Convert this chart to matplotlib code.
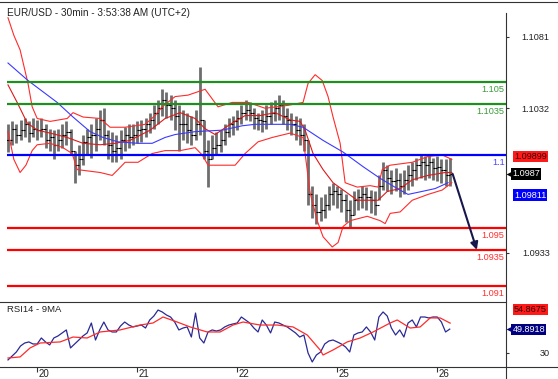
import numpy as np
import matplotlib
matplotlib.use('Agg')
import matplotlib.pyplot as plt
from matplotlib.lines import Line2D
from matplotlib import transforms

plt.rcParams['font.family'] = ['Liberation Sans', 'DejaVu Sans']

W, H = 558, 379

# hourly bars (index 0 = first bar on the chart)
high = [1.1021, 1.1023, 1.1021, 1.1024, 1.1025, 1.1023, 1.1025, 1.1024, 1.1025, 1.1021,
        1.1018, 1.1017, 1.1018, 1.1021, 1.1023, 1.1018, 1.1003, 1.1007, 1.1014, 1.1018,
        1.1021, 1.1025, 1.1031, 1.1032, 1.1017, 1.1016, 1.1014, 1.1017, 1.1019, 1.1021,
        1.1021, 1.1023, 1.1024, 1.1025, 1.1029, 1.1034, 1.1038, 1.1045, 1.1043, 1.1041,
        1.1038, 1.1034, 1.1031, 1.1029, 1.1027, 1.1031, 1.1060, 1.1024, 1.1010, 1.1014,
        1.1016, 1.1017, 1.1021, 1.1025, 1.1027, 1.1031, 1.1034, 1.1038, 1.1036, 1.1032,
        1.1029, 1.1031, 1.1034, 1.1036, 1.1038, 1.1041, 1.1038, 1.1032, 1.1029, 1.1027,
        1.1025, 1.1021, 1.1010, 1.0979, 1.0973, 1.0971, 1.0973, 1.0979, 1.0981, 1.0979,
        1.0977, 1.0973, 1.0969, 1.0975, 1.0977, 1.0979, 1.0978, 1.0976, 1.0975, 1.0986,
        1.0995, 1.0993, 1.0990, 1.0991, 1.0988, 1.0990, 1.0993, 1.0995, 1.0998, 1.1000,
        1.0999, 1.1000, 1.0998, 1.0999, 1.0997, 1.0997, 1.0998]
low = [1.1002, 1.1007, 1.1008, 1.1010, 1.1012, 1.1009, 1.1012, 1.1010, 1.1012, 1.1005,
       1.1003, 1.0997, 1.1003, 1.1005, 1.1007, 1.1000, 1.0981, 1.0986, 1.0993, 1.1000,
       1.0998, 1.1003, 1.1010, 1.1007, 1.0997, 1.0995, 1.0995, 1.0997, 1.1003, 1.1005,
       1.1007, 1.1008, 1.1009, 1.1012, 1.1015, 1.1018, 1.1021, 1.1027, 1.1025, 1.1024,
       1.1017, 1.1003, 1.1010, 1.1008, 1.1007, 1.1010, 1.1014, 1.0997, 1.0978, 1.0997,
       1.1000, 1.1002, 1.1007, 1.1012, 1.1014, 1.1017, 1.1021, 1.1024, 1.1023, 1.1018,
       1.1017, 1.1016, 1.1018, 1.1021, 1.1023, 1.1024, 1.1021, 1.1017, 1.1014, 1.1010,
       1.1007, 1.1003, 1.0966, 1.0957, 1.0953, 1.0955, 1.0957, 1.0962, 1.0966, 1.0964,
       1.0961, 1.0954, 1.0951, 1.0959, 1.0962, 1.0964, 1.0962, 1.0960, 1.0959, 1.0969,
       1.0976, 1.0975, 1.0973, 1.0975, 1.0971, 1.0973, 1.0976, 1.0979, 1.0983, 1.0984,
       1.0983, 1.0984, 1.0983, 1.0982, 1.0981, 1.0979, 1.0979]
close = [1.1010, 1.1018, 1.1014, 1.1017, 1.1021, 1.1015, 1.1018, 1.1017, 1.1018, 1.1010,
         1.1012, 1.1007, 1.1010, 1.1014, 1.1016, 1.1003, 1.0993, 1.0997, 1.1009, 1.1012,
         1.1014, 1.1018, 1.1024, 1.1014, 1.1007, 1.1003, 1.1005, 1.1010, 1.1014, 1.1012,
         1.1014, 1.1017, 1.1018, 1.1021, 1.1024, 1.1029, 1.1032, 1.1038, 1.1034, 1.1032,
         1.1027, 1.1021, 1.1021, 1.1017, 1.1014, 1.1021, 1.1024, 1.1003, 1.0997, 1.1005,
         1.1007, 1.1010, 1.1016, 1.1021, 1.1023, 1.1025, 1.1029, 1.1031, 1.1029, 1.1025,
         1.1024, 1.1023, 1.1027, 1.1029, 1.1032, 1.1034, 1.1027, 1.1024, 1.1021, 1.1017,
         1.1014, 1.1010, 1.0973, 1.0966, 1.0961, 1.0962, 1.0966, 1.0973, 1.0975, 1.0973,
         1.0969, 1.0962, 1.0959, 1.0969, 1.0971, 1.0973, 1.0971, 1.0969, 1.0966, 1.0979,
         1.0990, 1.0984, 1.0982, 1.0983, 1.0979, 1.0983, 1.0986, 1.0990, 1.0993, 1.0995,
         1.0993, 1.0995, 1.0991, 1.0992, 1.0990, 1.0986, 1.0987]
open_ = [close[0]] + close[:-1]

# bollinger bands and long MA (bar index, price)
up_x = [0, 1.4, 2.9, 4.8, 5.8, 7.0, 10.1, 14.2, 15.6, 18.0, 22.1, 24.5, 28.1, 32.9, 35.3, 37.0,
        40.1, 43.2, 47.3, 50.4, 53.8, 57.6, 61.7, 67.2, 70.8, 72.0, 73.7, 75.4, 76.8, 78.0,
        79.7, 80.9, 83.8, 86.9, 88.8, 89.8, 91.7, 97.0, 100.8, 104.2, 106.5]
up_y = [1.1094, 1.1082, 1.1072, 1.1049, 1.1033, 1.1025, 1.1023, 1.1025, 1.1029, 1.1026,
        1.1025, 1.1019, 1.1019, 1.1021, 1.1027, 1.1033, 1.1040, 1.1041, 1.1045, 1.1033,
        1.1036, 1.1036, 1.1032, 1.1034, 1.1036, 1.1049, 1.1055, 1.1051, 1.1040, 1.1026,
        1.1008, 1.0981, 1.0978, 1.0979, 1.0978, 1.0990, 1.0993, 1.0995, 1.0999, 1.1000, 1.0997]
mid_x = [0, 2.2, 4.6, 7.0, 10.1, 14.2, 18.0, 22.1, 25.7, 29.3, 34.1, 37.7, 41.3, 44.9, 47.3,
         49.7, 53.3, 56.9, 60.5, 64.1, 67.7, 70.1, 71.3, 73.2, 75.6, 78.0, 81.4, 83.8, 86.9,
         88.8, 91.0, 94.1, 97.0, 100.8, 104.9, 106.5]
mid_y = [1.1048, 1.1036, 1.1022, 1.1017, 1.1015, 1.1012, 1.1008, 1.1007, 1.1008, 1.1010,
         1.1017, 1.1025, 1.1029, 1.1025, 1.1018, 1.1014, 1.1021, 1.1027, 1.1027, 1.1029,
         1.1024, 1.1023, 1.1017, 1.1001, 1.0990, 1.0981, 1.0974, 1.0969, 1.0969, 1.0969,
         1.0975, 1.0977, 1.0983, 1.0986, 1.0988, 1.0988]
lo_x = [0, 1.4, 2.9, 4.3, 5.8, 7.0, 10.1, 13.2, 15.4, 16.6, 22.1, 25.0, 26.4, 28.1, 31.2,
        34.6, 37.7, 41.3, 44.9, 46.6, 48.0, 54.5, 56.9, 60.0, 63.4, 67.7, 70.8, 72.5, 74.2,
        75.6, 77.8, 79.2, 80.4, 82.1, 86.2, 89.3, 90.5, 91.7, 94.1, 97.0, 100.8, 104.2, 106.5]
lo_y = [1.1016, 1.0997, 1.0988, 1.0993, 1.1003, 1.1007, 1.1008, 1.1005, 1.1001, 1.0990,
        1.0988, 1.0986, 1.0990, 1.0995, 1.0995, 1.1001, 1.1003, 1.1003, 1.1005, 1.1000,
        1.0993, 1.0993, 1.1001, 1.1009, 1.1012, 1.1015, 1.1012, 1.0974, 1.0955, 1.0944,
        1.0937, 1.0940, 1.0951, 1.0955, 1.0958, 1.0955, 1.0953, 1.0960, 1.0961, 1.0969,
        1.0973, 1.0976, 1.0981]
ma_x = [0, 4.8, 11.8, 15.6, 19.7, 22.8, 26.4, 31.2, 34.6, 37.7, 40.1, 44.9, 51.4, 56.2,
        59.3, 63.4, 67.7, 70.8, 75.6, 80.4, 85.2, 89.3, 93.4, 96.0, 99.3, 102.5, 105.6]
ma_y = [1.1063, 1.1051, 1.1036, 1.1026, 1.1016, 1.1012, 1.1009, 1.1008, 1.1008, 1.1012,
        1.1014, 1.1016, 1.1017, 1.1020, 1.1021, 1.1021, 1.1021, 1.1019, 1.1010, 1.1002,
        1.0992, 1.0984, 1.0977, 1.0973, 1.0975, 1.0977, 1.0981]

rsi = [24.2, 27.5, 30.8, 35.8, 38.3, 39.2, 37.5, 37.5, 42.5, 39.2,
       36.7, 42.5, 44.2, 46.7, 49.2, 34.2, 37.5, 40.8, 44.2, 46.7,
       55.0, 40.8, 49.2, 55.8, 49.2, 47.5, 47.5, 52.5, 55.8, 53.3,
       51.7, 52.5, 53.3, 50.8, 57.5, 60.8, 65.8, 64.2, 61.7, 60.0,
       55.8, 49.2, 50.8, 51.7, 43.3, 63.3, 42.5, 38.3, 47.5, 49.2,
       48.3, 49.2, 51.7, 53.3, 54.2, 55.0, 60.0, 57.5, 55.0, 50.8,
       47.5, 57.5, 53.3, 46.7, 55.8, 55.0, 53.3, 51.7, 49.2, 46.7,
       43.3, 45.0, 30.0, 22.5, 28.3, 30.8, 37.5, 40.0, 40.8, 39.2,
       37.5, 35.0, 30.8, 45.0, 46.7, 47.5, 51.7, 47.5, 40.8, 60.0,
       64.2, 60.8, 50.8, 45.0, 49.2, 43.3, 55.0, 57.5, 51.7, 60.0,
       60.0, 59.2, 60.0, 60.0, 55.8, 47.5, 49.9]
rma_x = [0, 2.9, 5.3, 7.7, 12.5, 15.6, 19.0, 22.1, 26.9, 31.7, 34.8, 37.2, 40.6, 43.7, 47.8,
         50.9, 54.0, 56.4, 60.5, 64.6, 68.4, 71.8, 74.9, 75.6, 78.0, 81.4, 84.5, 87.6, 91.7,
         93.4, 96.5, 98.9, 101.3, 103.7, 106.1]
rma_y = [25.8, 26.7, 34.2, 38.3, 39.2, 43.3, 42.5, 47.5, 49.2, 53.3, 55.0, 60.0, 55.8, 51.7,
         47.5, 47.5, 53.3, 55.8, 53.3, 53.3, 51.7, 45.0, 32.5, 28.3, 32.5, 39.2, 42.5, 47.5,
         55.0, 57.5, 50.8, 51.7, 59.2, 59.2, 54.9]

day_pos = [7, 31, 55, 79, 103]
day_labels = ['20', '21', '22', '25', '26']
price_ticks = [1.1081, 1.1032, 1.0933]

resist = [1.105, 1.1035]
pivot = 1.1
support = [1.095, 1.0935, 1.091]
target = 1.0935

last_bb = 1.09899
last_ma = 1.09811
last_rsi = 49.8918
last_rsi_ma = 54.8675


def fx(px):
    return px / W


def fy(py):
    return 1 - py / H


fig = plt.figure(figsize=(W / 100, H / 100), dpi=100)
ax = fig.add_axes([fx(7), fy(302), fx(506) - fx(7), fy(3) - fy(302)])
ax_rsi = fig.add_axes([fx(7), fy(367), fx(506) - fx(7), fy(302) - fy(367)])

x = np.arange(len(close))
xlim = (-0.24, 119.5)

# price panel
ax.vlines(x, low, high, color='#6e6e6e', lw=2.0)
ax.hlines(close, x, x + 0.5, color='black', lw=0.8)
ax.hlines(open_, x - 0.5, x, color='black', lw=0.8)

ax.plot(up_x, up_y, color='#ff2b2b', lw=0.8)
ax.plot(mid_x, mid_y, color='#e01818', lw=0.8)
ax.plot(lo_x, lo_y, color='#ff2b2b', lw=0.8)
ax.plot(ma_x, ma_y, color='#3a3aff', lw=0.8)

lab_tr = transforms.blended_transform_factory(ax.transAxes, ax.transData)
for lv in resist:
    ax.axhline(lv, color='#1f8f1f', lw=1.6)
    ax.annotate(f'{lv:g}', xy=(1, lv), xycoords=lab_tr, xytext=(-1, -2), textcoords='offset points',
                ha='right', va='top', fontsize=6.6, color='#3a9a3a')
ax.axhline(pivot, color='#0000ff', lw=1.6)
ax.annotate(f'{pivot:g}', xy=(1, pivot), xycoords=lab_tr, xytext=(-1, -2), textcoords='offset points',
            ha='right', va='top', fontsize=6.6, color='#4848ff')
for lv in support:
    ax.axhline(lv, color='#ff0000', lw=1.6)
    ax.annotate(f'{lv:g}', xy=(1, lv), xycoords=lab_tr, xytext=(-1, -2), textcoords='offset points',
                ha='right', va='top', fontsize=6.6, color='#ff3030')

ax.annotate('', xy=(len(close) + 5.5, target), xytext=(len(close) - 0.3, close[-1]),
            arrowprops=dict(arrowstyle='-|>', color='#17174d', lw=1.5, mutation_scale=11,
                            shrinkA=0, shrinkB=0))

ax.set_xlim(*xlim)
ax.set_ylim(1.08993, 1.11041)
ax.set_xticks([])
ax.yaxis.tick_right()
ax.set_yticks(price_ticks)
ax.set_yticklabels([f'{t:.4f}' for t in price_ticks])
ax.tick_params(axis='y', direction='out', length=2.5, width=0.8, color='#333333',
               labelsize=6.6, labelcolor='#222222', pad=29)
for lbl in ax.get_yticklabels():
    lbl.set_ha('right')
for s in ax.spines.values():
    s.set_visible(False)

ax.annotate('EUR/USD - 30min - 3:53:38 AM (UTC+2)', xy=(0, 1), xycoords='axes fraction',
            xytext=(0, -3.5), textcoords='offset points',
            ha='left', va='top', fontsize=7.2, color='#222222')


def value_box(a, val, text, fc, tc, dy, dx=7, pointer=False):
    tr = transforms.blended_transform_factory(a.transAxes, a.transData)
    a.annotate(text, xy=(1, val), xycoords=tr, xytext=(dx * 0.72, -dy * 0.72),
               textcoords='offset points', ha='left', va='center', fontsize=6.6, color=tc,
               bbox=dict(boxstyle='square,pad=0.12', fc=fc, ec='none'), annotation_clip=False)
    if pointer:
        off = transforms.ScaledTranslation(3.5 / 100, -dy / 100, fig.dpi_scale_trans)
        a.plot([1.0], [val], marker='<', ms=5.5, color=fc, mec='none',
               transform=tr + off, clip_on=False)


value_box(ax, last_bb, f'{last_bb:.5f}', '#ff1a1a', '#3a0000', -13.5, dx=8)
value_box(ax, close[-1], f'{close[-1]:.4f}', '#000000', 'white', 0, dx=6.5, pointer=True)
value_box(ax, last_ma, f'{last_ma:.5f}', '#0000ff', 'white', 12.5, dx=8)

# RSI panel
ax_rsi.plot(x, rsi, color='#2a2a95', lw=0.9)
ax_rsi.plot(rma_x, rma_y, color='#ff2b2b', lw=0.9)
ax_rsi.set_xlim(*xlim)
ax_rsi.set_ylim(18.3, 72.5)
ax_rsi.yaxis.tick_right()
ax_rsi.set_yticks([30])
ax_rsi.set_yticklabels(['30'])
ax_rsi.tick_params(axis='y', direction='out', length=2.5, width=0.8, color='#333333',
                   labelsize=6.6, labelcolor='#222222', pad=29)
for lbl in ax_rsi.get_yticklabels():
    lbl.set_ha('right')
ax_rsi.set_xticks(day_pos)
ax_rsi.tick_params(axis='x', direction='out', length=3.6, width=0.8, color='#333333',
                   labelbottom=False)
date_tr = transforms.blended_transform_factory(ax_rsi.transData, ax_rsi.transAxes)
for p, lab in zip(day_pos, day_labels):
    ax_rsi.annotate(lab, xy=(p, 0), xycoords=date_tr, xytext=(1.2, -1.2), textcoords='offset points',
                    ha='left', va='top', fontsize=7, color='#222222', annotation_clip=False)
for s in ax_rsi.spines.values():
    s.set_visible(False)
ax_rsi.text(0, 0.95, 'RSI14 - 9MA', transform=ax_rsi.transAxes, ha='left', va='top',
            fontsize=6.8, color='#222222')

value_box(ax_rsi, last_rsi_ma, f'{last_rsi_ma:.4f}', '#ff1a1a', '#3a0000', -14, dx=8)
value_box(ax_rsi, last_rsi, f'{last_rsi:.4f}', '#000080', 'white', 0, dx=6.5, pointer=True)

# frame lines
frame = [([0, W], [2, 2]), ([0, 506], [302, 302]), ([0, W], [367, 367]), ([506, 506], [13, H])]
for xs, ys in frame:
    fig.add_artist(Line2D([fx(v) for v in xs], [fy(v) for v in ys], transform=fig.transFigure,
                          color='#333333', lw=0.8))

fig.savefig('out.png', dpi=100)
